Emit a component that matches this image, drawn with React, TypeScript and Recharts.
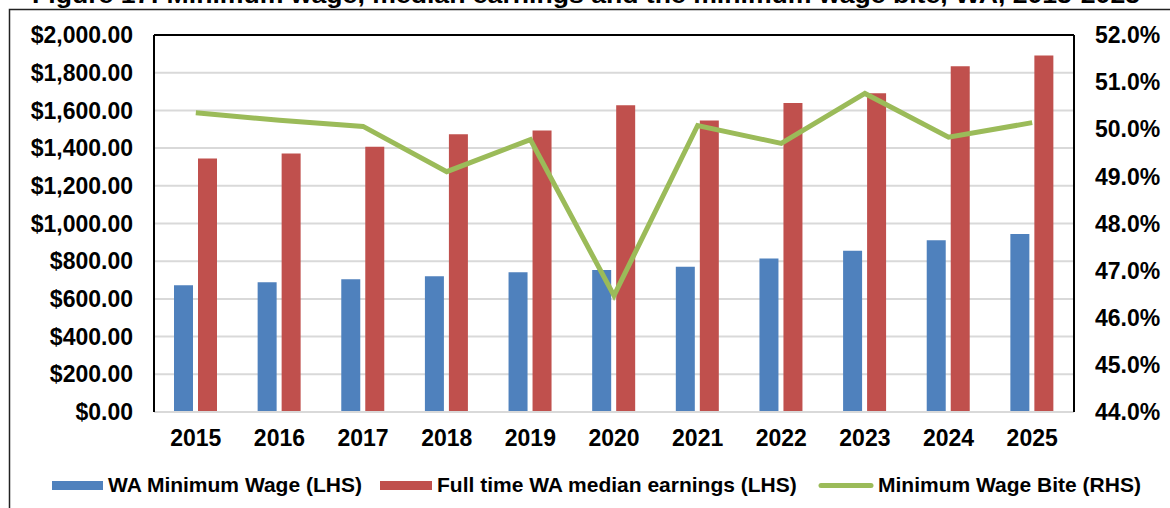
import React from "react";
import { Bar, CartesianGrid, ComposedChart, Line, ReferenceLine, XAxis, YAxis } from "recharts";

const years = ["2015", "2016", "2017", "2018", "2019", "2020", "2021", "2022", "2023", "2024", "2025"];
const minWage = [672, 688, 704, 720, 741, 753, 771, 814, 856, 911, 944];
const medianEarnings = [1345, 1372, 1407, 1473, 1494, 1627, 1546, 1639, 1691, 1834, 1891];
const wageBite = [50.35, 50.19, 50.06, 49.1, 49.78, 46.47, 50.08, 49.7, 50.76, 49.83, 50.14];

const leftTicks = [0, 200, 400, 600, 800, 1000, 1200, 1400, 1600, 1800, 2000];
const rightTicks = [44, 45, 46, 47, 48, 49, 50, 51, 52];

const data = years.map((year, i) => ({
  year,
  minWage: minWage[i],
  median: medianEarnings[i],
  bite: wageBite[i],
}));

const FONT = '"Liberation Sans", Arial, sans-serif';
const BLUE = "#4F81BD";
const RED = "#C0504D";
const GREEN = "#9BBB59";

const tickStyle = { fill: "#000", fontSize: 23, fontWeight: 700, fontFamily: FONT };

const money = (v: number) =>
  "$" + v.toLocaleString("en-US", { minimumFractionDigits: 2, maximumFractionDigits: 2 });

export default function App() {
  return (
    <div style={{ position: "absolute", left: 0, top: 0, width: 1170, height: 508, background: "#fff", overflow: "hidden" }}>
      <ComposedChart width={1170} height={508} data={data} margin={{ top: 35, right: 0, bottom: 66, left: 0 }} barGap={5}>
        <CartesianGrid yAxisId="left" vertical={false} stroke="#D9D9D9" strokeWidth={2} />
        <XAxis
          dataKey="year"
          height={30}
          tickLine={false}
          tickSize={6}
          tickMargin={12}
          axisLine={{ stroke: "#D9D9D9", strokeWidth: 2 }}
          tick={tickStyle}
          interval={0}
        />
        <YAxis
          yAxisId="left"
          width={154}
          domain={[0, 2000]}
          ticks={leftTicks}
          tickFormatter={money}
          tickLine={false}
          tickSize={6}
          tickMargin={15}
          axisLine={{ stroke: "#000", strokeWidth: 2 }}
          tick={tickStyle}
          interval={0}
        />
        <YAxis
          yAxisId="right"
          orientation="right"
          width={96}
          domain={[44, 52]}
          ticks={rightTicks}
          tickFormatter={(v: number) => v.toFixed(1) + "%"}
          tickLine={false}
          tickSize={6}
          tickMargin={15}
          axisLine={{ stroke: "#000", strokeWidth: 2 }}
          tick={tickStyle}
          interval={0}
        />
        <ReferenceLine yAxisId="left" y={2000} stroke="#000" strokeWidth={2} />
        <Bar yAxisId="left" dataKey="minWage" fill={BLUE} barSize={19} isAnimationActive={false} />
        <Bar yAxisId="left" dataKey="median" fill={RED} barSize={19} isAnimationActive={false} />
        <Line
          yAxisId="right"
          dataKey="bite"
          type="linear"
          stroke={GREEN}
          strokeWidth={5}
          dot={false}
          activeDot={false}
          isAnimationActive={false}
        />
      </ComposedChart>

      <svg width={1170} height={508} style={{ position: "absolute", left: 0, top: 0, pointerEvents: "none" }}>
        <text x={32} y={3} fontFamily={FONT} fontWeight={700} fontSize={24} textLength={1108} lengthAdjust="spacingAndGlyphs">
          Figure 17: Minimum wage, median earnings and the minimum wage bite, WA, 2015-2025
        </text>
        <path d="M9.5 520 L9.5 9.5 L1175 9.5" fill="none" stroke="#222" strokeWidth={1.5} />
        <g fontFamily={FONT} fontWeight={700} fontSize={21} fill="#000">
          <rect x={52} y={481} width={51} height={9} fill={BLUE} />
          <text x={108} y={492}>WA Minimum Wage (LHS)</text>
          <rect x={380} y={481} width={52} height={9} fill={RED} />
          <text x={437} y={492}>Full time WA median earnings (LHS)</text>
          <line x1={821} y1={485.5} x2={871} y2={485.5} stroke={GREEN} strokeWidth={5} strokeLinecap="round" />
          <text x={878} y={492}>Minimum Wage Bite (RHS)</text>
        </g>
      </svg>
    </div>
  );
}
